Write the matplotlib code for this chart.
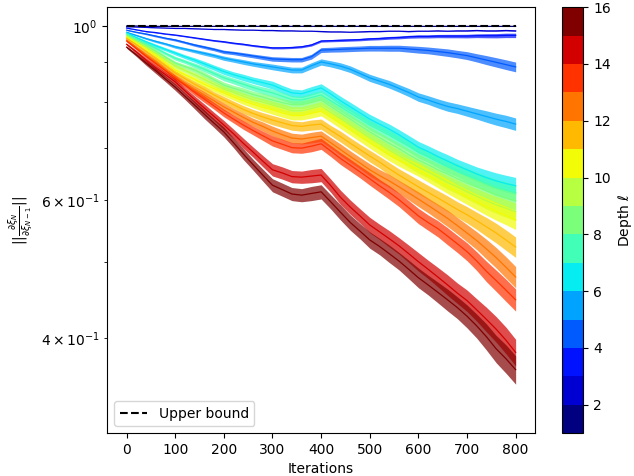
import numpy as np
import matplotlib
matplotlib.use('Agg')
import matplotlib.pyplot as plt
from matplotlib.colors import Normalize
from matplotlib.cm import ScalarMappable

iterations = np.arange(0, 801, 20)

depth_01 = [1.000, 1.000, 0.999, 0.999, 0.999, 0.999, 0.999, 0.999, 0.999, 0.999,
            0.999, 0.999, 0.999, 0.999, 0.999, 0.999, 0.999, 0.999, 0.999, 0.999,
            0.999, 0.999, 0.999, 0.999, 0.999, 0.999, 0.999, 0.999, 0.999, 0.999,
            0.999, 0.999, 0.999, 0.999, 0.999, 0.999, 0.999, 0.999, 0.999, 0.999,
            0.999]
depth_02 = [0.998, 0.997, 0.996, 0.995, 0.994, 0.993, 0.993, 0.992, 0.991, 0.990,
            0.990, 0.989, 0.988, 0.988, 0.987, 0.987, 0.986, 0.986, 0.985, 0.985,
            0.984, 0.983, 0.983, 0.982, 0.983, 0.984, 0.984, 0.985, 0.985, 0.984,
            0.985, 0.985, 0.986, 0.985, 0.986, 0.986, 0.987, 0.986, 0.986, 0.987,
            0.986]
depth_03 = [0.994, 0.989, 0.984, 0.981, 0.977, 0.974, 0.970, 0.966, 0.962, 0.958,
            0.955, 0.951, 0.948, 0.944, 0.941, 0.938, 0.938, 0.939, 0.941, 0.946,
            0.957, 0.958, 0.959, 0.960, 0.961, 0.963, 0.964, 0.966, 0.967, 0.969,
            0.970, 0.970, 0.971, 0.971, 0.971, 0.971, 0.972, 0.972, 0.972, 0.973,
            0.973]
depth_04 = [0.988, 0.982, 0.977, 0.971, 0.965, 0.960, 0.953, 0.946, 0.940, 0.934,
            0.927, 0.924, 0.920, 0.916, 0.912, 0.908, 0.907, 0.906, 0.906, 0.914,
            0.932, 0.933, 0.934, 0.935, 0.936, 0.937, 0.937, 0.937, 0.937, 0.935,
            0.933, 0.931, 0.928, 0.925, 0.921, 0.917, 0.911, 0.905, 0.899, 0.893,
            0.887]
depth_05 = [0.982, 0.973, 0.964, 0.956, 0.949, 0.941, 0.935, 0.929, 0.923, 0.917,
            0.910, 0.905, 0.900, 0.895, 0.891, 0.887, 0.883, 0.879, 0.879, 0.890,
            0.900, 0.895, 0.889, 0.881, 0.870, 0.859, 0.851, 0.843, 0.833, 0.823,
            0.812, 0.805, 0.797, 0.790, 0.785, 0.779, 0.773, 0.767, 0.761, 0.756,
            0.750]
depth_06 = [0.980, 0.967, 0.955, 0.944, 0.934, 0.924, 0.914, 0.905, 0.895, 0.885,
            0.875, 0.867, 0.860, 0.853, 0.847, 0.841, 0.831, 0.822, 0.820, 0.827,
            0.834, 0.819, 0.803, 0.789, 0.775, 0.761, 0.750, 0.739, 0.727, 0.714,
            0.701, 0.692, 0.682, 0.673, 0.664, 0.656, 0.648, 0.641, 0.635, 0.630,
            0.626]
depth_07 = [0.977, 0.963, 0.950, 0.937, 0.923, 0.910, 0.901, 0.891, 0.881, 0.870,
            0.859, 0.851, 0.843, 0.835, 0.828, 0.822, 0.814, 0.806, 0.805, 0.811,
            0.817, 0.803, 0.789, 0.775, 0.762, 0.748, 0.737, 0.726, 0.714, 0.703,
            0.691, 0.682, 0.672, 0.663, 0.655, 0.646, 0.638, 0.630, 0.623, 0.618,
            0.613]
depth_08 = [0.974, 0.959, 0.945, 0.929, 0.913, 0.897, 0.888, 0.879, 0.867, 0.854,
            0.841, 0.833, 0.826, 0.818, 0.812, 0.805, 0.799, 0.794, 0.794, 0.799,
            0.805, 0.790, 0.775, 0.761, 0.747, 0.733, 0.721, 0.709, 0.698, 0.686,
            0.675, 0.666, 0.656, 0.648, 0.639, 0.631, 0.624, 0.617, 0.610, 0.604,
            0.599]
depth_09 = [0.971, 0.955, 0.940, 0.923, 0.906, 0.889, 0.878, 0.867, 0.855, 0.843,
            0.831, 0.823, 0.814, 0.806, 0.800, 0.793, 0.787, 0.780, 0.780, 0.785,
            0.791, 0.776, 0.762, 0.748, 0.734, 0.720, 0.708, 0.695, 0.684, 0.672,
            0.661, 0.652, 0.642, 0.632, 0.624, 0.615, 0.607, 0.599, 0.592, 0.586,
            0.580]
depth_10 = [0.968, 0.952, 0.935, 0.917, 0.898, 0.879, 0.867, 0.855, 0.843, 0.832,
            0.822, 0.812, 0.803, 0.795, 0.788, 0.782, 0.775, 0.769, 0.769, 0.774,
            0.779, 0.765, 0.751, 0.737, 0.723, 0.710, 0.697, 0.685, 0.674, 0.665,
            0.656, 0.645, 0.635, 0.625, 0.615, 0.606, 0.597, 0.589, 0.581, 0.574,
            0.566]
depth_11 = [0.965, 0.947, 0.928, 0.909, 0.890, 0.871, 0.857, 0.843, 0.830, 0.817,
            0.805, 0.794, 0.783, 0.774, 0.766, 0.759, 0.753, 0.747, 0.745, 0.748,
            0.750, 0.736, 0.723, 0.709, 0.696, 0.683, 0.671, 0.658, 0.646, 0.635,
            0.624, 0.614, 0.604, 0.594, 0.584, 0.575, 0.565, 0.555, 0.545, 0.534,
            0.523]
depth_12 = [0.960, 0.940, 0.920, 0.901, 0.881, 0.861, 0.846, 0.831, 0.817, 0.803,
            0.789, 0.777, 0.765, 0.754, 0.745, 0.735, 0.727, 0.720, 0.718, 0.721,
            0.724, 0.710, 0.696, 0.682, 0.669, 0.656, 0.645, 0.635, 0.624, 0.613,
            0.602, 0.591, 0.580, 0.569, 0.557, 0.545, 0.533, 0.520, 0.507, 0.493,
            0.479]
depth_13 = [0.957, 0.936, 0.915, 0.896, 0.877, 0.859, 0.841, 0.823, 0.807, 0.791,
            0.775, 0.761, 0.748, 0.736, 0.725, 0.714, 0.707, 0.700, 0.699, 0.703,
            0.708, 0.693, 0.678, 0.665, 0.652, 0.639, 0.626, 0.614, 0.601, 0.587,
            0.573, 0.562, 0.552, 0.540, 0.528, 0.516, 0.502, 0.487, 0.474, 0.461,
            0.448]
depth_14 = [0.948, 0.927, 0.905, 0.885, 0.867, 0.849, 0.827, 0.806, 0.786, 0.767,
            0.748, 0.729, 0.709, 0.691, 0.673, 0.656, 0.650, 0.643, 0.642, 0.644,
            0.646, 0.626, 0.605, 0.588, 0.573, 0.558, 0.547, 0.536, 0.525, 0.513,
            0.501, 0.490, 0.479, 0.468, 0.457, 0.447, 0.435, 0.423, 0.411, 0.398,
            0.384]
depth_15 = [0.940, 0.919, 0.897, 0.877, 0.856, 0.836, 0.814, 0.793, 0.772, 0.752,
            0.733, 0.710, 0.687, 0.666, 0.646, 0.627, 0.619, 0.611, 0.609, 0.612,
            0.615, 0.597, 0.579, 0.562, 0.548, 0.534, 0.524, 0.513, 0.502, 0.490,
            0.478, 0.468, 0.458, 0.448, 0.438, 0.427, 0.415, 0.402, 0.388, 0.377,
            0.365]

# how wide the batch-to-batch jitter looks, in percent of the value
jitter_pct = [0.1, 0.15, 0.2, 0.25, 0.25, 0.3, 0.3, 0.35, 0.4, 0.4,
              0.45, 0.45, 0.5, 0.5, 0.55, 0.6, 0.6, 0.6, 0.6, 0.65,
              0.65, 0.65, 0.7, 0.7, 0.7, 0.75, 0.75, 0.8, 0.8, 0.85,
              0.9, 0.9, 0.95, 1.0, 1.0, 1.05, 1.1, 1.2, 1.25, 1.3,
              1.3]
jitter_scale = [0.0, 0.1, 0.5, 1.1, 1.4, 1.9, 1.9, 2.0, 2.0, 2.1, 2.3, 2.4, 2.5, 3.0, 3.2]

curves = [depth_01, depth_02, depth_03, depth_04, depth_05, depth_06, depth_07,
          depth_08, depth_09, depth_10, depth_11, depth_12, depth_13, depth_14,
          depth_15]
depths = list(range(1, 16))
upper_bound = 1.0

fig = plt.figure(figsize=(6.34, 4.76), dpi=100)
ax = fig.add_axes([0.169, 0.090, 0.675, 0.895])
cax = fig.add_axes([0.886, 0.090, 0.034, 0.895])

cmap = plt.get_cmap('jet', 15)
norm = Normalize(vmin=1, vmax=16)

for d, vals, s in zip(depths, curves, jitter_scale):
    col = cmap(norm(d + 0.5))
    vals = np.array(vals)
    w = s * np.array(jitter_pct) / 100.0
    if s > 0:
        ax.fill_between(iterations, vals * (1 - w), vals * (1 + w),
                        color=col, alpha=0.7, lw=0)
    ax.plot(iterations, vals, color=col, lw=0.9)

ax.plot(iterations, np.full(len(iterations), upper_bound), 'k--', lw=1.5,
        label='Upper bound')

ax.set_yscale('log')
ax.set_ylim(0.303, 1.057)
ax.set_xlabel('Iterations')
ax.set_ylabel(r'$||\frac{\partial \xi_N}{\partial \xi_{N-1}}||$')
ax.legend(loc='lower left')

sm = ScalarMappable(norm=norm, cmap=cmap)
cb = fig.colorbar(sm, cax=cax)
cb.set_label(r'Depth $\ell$')

fig.savefig('out.png', dpi=100)
